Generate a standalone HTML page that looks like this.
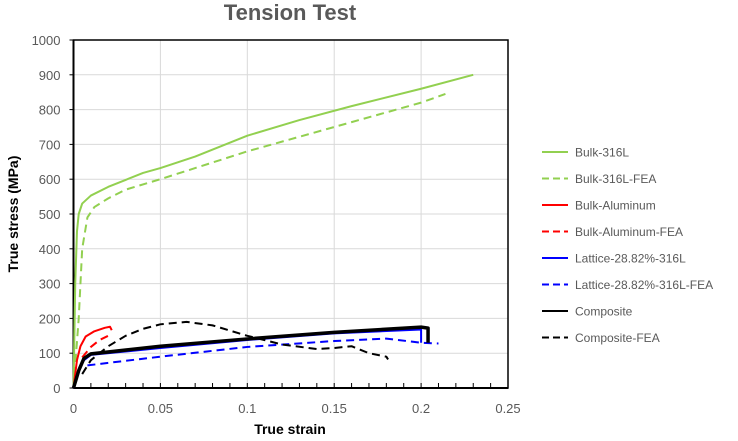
<!DOCTYPE html>
<html><head><meta charset="utf-8"><style>
body{margin:0;background:#fff;}
svg{display:block;font-family:"Liberation Sans",sans-serif;}
</style></head><body>
<svg id="chart" width="738" height="441">
<text x="290" y="20" text-anchor="middle" font-size="22" font-weight="bold" fill="#595959">Tension Test</text>
<g id="grid"></g>
<g id="axes"></g>
<g id="series"></g>
<g id="legend"></g>
<text x="0" y="0" transform="translate(18,214) rotate(-90)" text-anchor="middle" font-size="14" font-weight="bold" fill="#000">True stress (MPa)</text>
<text x="290" y="434" text-anchor="middle" font-size="14" font-weight="bold" fill="#000">True strain</text>
</svg>
<script>
const xTicks=[0,0.05,0.1,0.15,0.2,0.25];
const xTickLabels=["0","0.05","0.1","0.15","0.2","0.25"];
const yTicks=[0,100,200,300,400,500,600,700,800,900,1000];
const seriesNames=["Bulk-316L","Bulk-316L-FEA","Bulk-Aluminum","Bulk-Aluminum-FEA","Lattice-28.82%-316L","Lattice-28.82%-316L-FEA","Composite","Composite-FEA"];
const bulk316L=[[0,0],[0.001,300],[0.002,450],[0.003,500],[0.005,530],[0.01,553],[0.02,578],[0.03,598],[0.04,618],[0.05,632],[0.07,665],[0.1,725],[0.13,770],[0.16,810],[0.2,860],[0.23,900]];
const bulk316LFEA=[[0,0],[0.003,200],[0.005,400],[0.008,490],[0.012,520],[0.02,545],[0.03,570],[0.05,600],[0.1,680],[0.15,750],[0.2,820],[0.214,845]];
const bulkAl=[[0,0],[0.002,80],[0.004,120],[0.007,148],[0.012,163],[0.018,173],[0.021,176],[0.022,166]];
const bulkAlFEA=[[0.005,88],[0.01,118],[0.015,138],[0.022,155]];
const lattice=[[0,0],[0.003,50],[0.006,80],[0.01,95],[0.05,115],[0.1,138],[0.15,157],[0.2,168],[0.2,130]];
const latticeFEA=[[0.008,65],[0.05,90],[0.1,118],[0.15,135],[0.18,142],[0.2,130],[0.21,128]];
const composite=[[0,0],[0.003,50],[0.006,85],[0.01,98],[0.05,120],[0.1,141],[0.15,160],[0.2,175],[0.204,172],[0.204,130]];
const compositeFEA=[[0.005,40],[0.01,80],[0.02,120],[0.03,150],[0.04,170],[0.05,183],[0.065,190],[0.08,180],[0.1,150],[0.12,125],[0.14,112],[0.15,115],[0.16,120],[0.17,100],[0.18,90],[0.181,82]];
const seriesData=[bulk316L,bulk316LFEA,bulkAl,bulkAlFEA,lattice,latticeFEA,composite,compositeFEA];
const colors=["#92d050","#92d050","#ff0000","#ff0000","#0000ff","#0000ff","#000000","#000000"];
const widths=[2,2,2,2,2,2,3.5,2];
const dashed=[false,true,false,true,false,true,false,true];
const X0=73.5,X1=508,Y0=388,Y1=40;
const sx=v=>X0+(v/0.25)*(X1-X0);
const sy=v=>Y0-(v/1000)*(Y0-Y1);
const NS="http://www.w3.org/2000/svg";
function mk(tag,attrs,parent){const e=document.createElementNS(NS,tag);for(const k in attrs)e.setAttribute(k,attrs[k]);parent.appendChild(e);return e;}
const grid=document.getElementById('grid'),axes=document.getElementById('axes'),ser=document.getElementById('series'),leg=document.getElementById('legend');
yTicks.forEach((t,i)=>{
 const l=mk('line',{x1:X0,x2:X1,y1:sy(t),y2:sy(t),stroke:'#d9d9d9','stroke-width':1},grid);
 
 
 mk('line',{x1:X0-4,x2:X0,y1:sy(t),y2:sy(t),stroke:'#000','stroke-width':1},axes);
 const tx=mk('text',{x:X0-13,y:sy(t)+5,'text-anchor':'end','font-size':13,fill:'#595959'},axes);
 tx.textContent=String(t);
 
 
});
xTicks.forEach((t,i)=>{
 if(t>0){const l=mk('line',{x1:sx(t),x2:sx(t),y1:Y0,y2:Y1,stroke:'#d9d9d9','stroke-width':1},grid);
 
 }
 const tx=mk('text',{x:sx(t),y:413,'text-anchor':'middle','font-size':13,fill:'#595959'},axes);
 tx.textContent=xTickLabels[i];
 
 
});
for(let k=1;k<=25;k++){mk('line',{x1:sx(k*0.01),x2:sx(k*0.01),y1:Y0,y2:Y0-5,stroke:'#000','stroke-width':1},axes);}
mk('rect',{x:X0,y:Y1,width:X1-X0,height:Y0-Y1,fill:'none',stroke:'#000','stroke-width':1.5},axes);
mk('line',{x1:X0,x2:X1,y1:Y0,y2:Y0,stroke:'#000','stroke-width':2},axes);
mk('line',{x1:X0,x2:X0,y1:Y0,y2:Y1,stroke:'#000','stroke-width':2},axes);
seriesData.forEach((d,i)=>{
 const p=mk('polyline',{points:d.map(q=>sx(q[0])+','+sy(q[1])).join(' '),fill:'none',stroke:colors[i],'stroke-width':widths[i],'stroke-linejoin':'round'},ser);
 if(dashed[i])p.setAttribute('stroke-dasharray','8,5');
 
 
});
seriesNames.forEach((n,i)=>{
 const y=152+i*26.5;
 const g=mk('g',{},leg);
 
 
 const l=mk('line',{x1:542,x2:568,y1:y,y2:y,stroke:colors[i],'stroke-width':2},g);
 if(dashed[i])l.setAttribute('stroke-dasharray','7,4');
 const t=mk('text',{x:575,y:y+4.5,'font-size':12,fill:'#595959'},g);
 t.textContent=n;
});
</script>
</body></html>
